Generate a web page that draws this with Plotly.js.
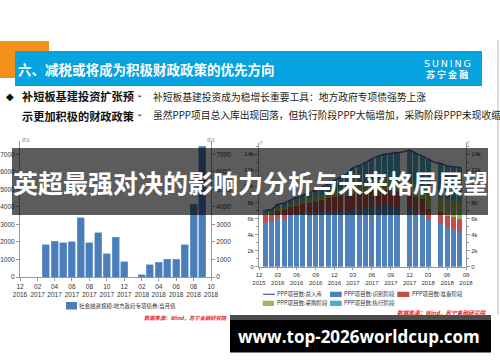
<!DOCTYPE html>
<html><head><meta charset="utf-8">
<script src="https://cdn.plot.ly/plotly-3.0.1.min.js"></script>
<style>html,body{margin:0;padding:0;background:#fff}#chart{width:500px;height:362px}</style>
</head><body><div id="chart"></div>
<script>
// ---------- left chart data: 地方政府专项债 当月值 (亿元) ----------
const leftMonths = ['2016-12','2017-01','2017-02','2017-03','2017-04','2017-05','2017-06','2017-07','2017-08','2017-09','2017-10','2017-11','2017-12','2018-01','2018-02','2018-03','2018-04','2018-05','2018-06','2018-07','2018-08','2018-09'];
const leftValues = [0,0,0,1840,2050,1960,2010,3370,1960,2520,1320,2270,870,0,120,690,840,1020,1020,1850,4150,7470];
const leftTickVals = ['2016-12-01','2017-02-01','2017-04-01','2017-06-01','2017-08-01','2017-10-01','2017-12-01','2018-02-01','2018-04-01','2018-06-01','2018-08-01','2018-10-01'];
const leftTickText = ['12<br>2016','02<br>2017','04<br>2017','06<br>2017','08<br>2017','10<br>2017','12<br>2017','02<br>2018','04<br>2018','06<br>2018','08<br>2018','10<br>2018'];
const leftName = '社会融资规模:地方政府专项债券:当月值';

// ---------- right chart data: PPP 项目数 (个) ----------
const rightMonths = ['2016-01','2016-02','2016-03','2016-04','2016-05','2016-06','2016-07','2016-08','2016-09','2016-10','2016-11','2016-12','2017-01','2017-02','2017-03','2017-04','2017-05','2017-06','2017-07','2017-08','2017-09','2017-10','2017-11','2017-12','2018-01','2018-02','2018-03','2018-04','2018-05','2018-06','2018-07','2018-08'];
const pppTotal   = [7050,7150,7750,7900,8300,8650,8900,9200,9500,9900,10350,10800,11200,11600,12300,12600,13000,13400,13800,14000,14100,14250,14300,14530,14100,13780,13370,13000,12870,12550,12450,12400];
const pppIdentify= [5500,5600,6200,5850,6400,6500,6600,6650,6700,6750,6800,6850,6900,6950,7050,7150,7300,7400,7500,7550,7500,7300,null,7450,6900,6700,5900,null,5350,4950,4700,4300];
const pppPrepare = [900,950,750,1200,1000,1100,1150,1300,1400,1500,1700,1800,1850,1900,2000,2000,2050,2100,2100,2050,2000,1950,null,1800,1800,1750,1250,null,1450,1350,1500,1700];
const pppPurchase= [300,300,350,400,450,500,550,600,650,700,800,850,900,950,1000,1050,1100,1150,1200,1250,1300,1400,null,1450,1600,1650,1900,null,1800,1950,2050,2100];
const pppExecute = [350,300,450,450,450,550,600,650,750,950,1050,1300,1550,1800,2250,2400,2550,2750,3000,3150,3300,3600,null,3830,3800,3680,4320,null,4270,4300,4200,4300];
const rightTickVals = ['2015-12-01','2016-03-01','2016-06-01','2016-09-01','2016-12-01','2017-03-01','2017-06-01','2017-09-01','2017-12-01','2018-03-01','2018-06-01','2018-09-01'];
const rightTickText = ['12<br>2015','03<br>2016','06<br>2016','09<br>2016','12<br>2016','03<br>2017','06<br>2017','09<br>2017','12<br>2017','03<br>2018','06<br>2018','09<br>2018'];
const pppNames = ['PPP项目数:总入库','PPP项目数:识别阶段','PPP项目数:准备阶段','PPP项目数:采购阶段','PPP项目数:执行阶段'];
const pppColors = ['#5b4a9c','#4f81bd','#c0504d','#9bbb59','#4bacc6'];

// ---------- helpers for page layout (pixel -> paper) ----------
const W = 500, H = 362;
const px = x => x / W;
const py = y => 1 - y / H;
const CJK = 'Noto Sans CJK SC, sans-serif';
const TICKF = {family:'Liberation Sans, Arial, sans-serif', size:6.5, color:'#333'};
const TICKF2 = {family:'Liberation Sans, Arial, sans-serif', size:6, color:'#333'};

const traces = [
  {type:'bar', x:leftMonths, y:leftValues, xaxis:'x', yaxis:'y', name:leftName,
   marker:{color:'#4a7ebb', line:{color:'#7ea3d4', width:0.6}}, showlegend:false, hoverinfo:'skip'},
  {type:'bar', x:rightMonths, y:pppIdentify, xaxis:'x2', yaxis:'y2', name:pppNames[1], marker:{color:pppColors[1]}, showlegend:false},
  {type:'bar', x:rightMonths, y:pppPrepare, xaxis:'x2', yaxis:'y2', name:pppNames[2], marker:{color:pppColors[2]}, showlegend:false},
  {type:'bar', x:rightMonths, y:pppPurchase, xaxis:'x2', yaxis:'y2', name:pppNames[3], marker:{color:pppColors[3]}, showlegend:false},
  {type:'bar', x:rightMonths, y:pppExecute, xaxis:'x2', yaxis:'y2', name:pppNames[4], marker:{color:pppColors[4]}, showlegend:false},
  {type:'scatter', mode:'lines', x:rightMonths, y:pppTotal, xaxis:'x2', yaxis:'y2', name:pppNames[0], line:{color:pppColors[0], width:1.3}, showlegend:false},
  // empty traces so the mirrored right-hand value axes get drawn
  {type:'scatter', mode:'lines', x:[], y:[], xaxis:'x', yaxis:'y3', showlegend:false, hoverinfo:'skip'},
  {type:'scatter', mode:'lines', x:[], y:[], xaxis:'x2', yaxis:'y4', showlegend:false, hoverinfo:'skip'}
];

const axisBase = {showgrid:false, zeroline:false, showline:true, linecolor:'#999', linewidth:1, ticks:'outside', tickcolor:'#999', fixedrange:true};

const layout = {
  width:W, height:H, autosize:false,
  margin:{l:0,r:0,t:0,b:0,pad:0},
  paper_bgcolor:'#fff', plot_bgcolor:'rgba(0,0,0,0)',
  barmode:'stack', bargap:0.12, showlegend:false,
  xaxis: Object.assign({}, axisBase, {domain:[px(20),px(211)], anchor:'y', type:'date', range:['2016-12-01','2018-10-01'],
    tickmode:'array', tickvals:leftTickVals, ticktext:leftTickText, ticklen:3, tickangle:0, tickfont:TICKF}),
  yaxis: Object.assign({}, axisBase, {domain:[py(277),py(141)], anchor:'x', range:[0,7760], dtick:1000, ticklen:3, tickfont:TICKF}),
  yaxis3: Object.assign({}, axisBase, {overlaying:'y', side:'right', anchor:'x', range:[0,7760], dtick:1000, ticklen:3, tickfont:TICKF}),
  xaxis2: Object.assign({}, axisBase, {domain:[px(259),px(466)], anchor:'y2', type:'date', range:['2015-12-01','2018-09-01'],
    tickmode:'array', tickvals:rightTickVals, ticktext:rightTickText, ticklen:2, tickangle:0, tickfont:TICKF2}),
  yaxis2: Object.assign({}, axisBase, {domain:[py(266.7),py(143)], anchor:'x2', range:[0,15400], dtick:2000, ticklen:3, tickfont:TICKF2,
    minor:{dtick:1000, ticklen:2, tickcolor:'#999', ticks:'outside'}}),
  yaxis4: Object.assign({}, axisBase, {overlaying:'y2', side:'right', anchor:'x2', range:[0,15400], dtick:2000, ticklen:3, tickfont:TICKF2,
    minor:{dtick:1000, ticklen:2, tickcolor:'#999', ticks:'outside'}}),
  shapes: [
    {type:'rect', xref:'paper', yref:'paper', x0:0, x1:px(49), y0:py(78), y1:py(41), fillcolor:'#f39019', line:{width:0}, layer:'below'},
    {type:'rect', xref:'paper', yref:'paper', x0:px(15), x1:px(482), y0:py(86), y1:py(51), fillcolor:'#05a3e0', line:{width:0}, layer:'below'},
    {type:'line', xref:'paper', yref:'paper', x0:px(498), x1:px(498), y0:py(40), y1:py(315), line:{color:'#bbb', width:1}, layer:'below'},
    // legend swatches
    {type:'rect', xref:'paper', yref:'paper', x0:px(66), x1:px(77), y0:py(309.5), y1:py(302), fillcolor:'#4a7ebb', line:{width:0}},
    {type:'line', xref:'paper', yref:'paper', x0:px(263), x1:px(275), y0:py(294.3), y1:py(294.3), line:{color:pppColors[0], width:1.2}},
    {type:'rect', xref:'paper', yref:'paper', x0:px(330), x1:px(341.7), y0:py(297), y1:py(291.7), fillcolor:pppColors[1], line:{width:0}},
    {type:'rect', xref:'paper', yref:'paper', x0:px(397.3), x1:px(409.3), y0:py(297), y1:py(291.7), fillcolor:pppColors[2], line:{width:0}},
    {type:'rect', xref:'paper', yref:'paper', x0:px(262.7), x1:px(274), y0:py(306), y1:py(300.7), fillcolor:pppColors[3], line:{width:0}},
    {type:'rect', xref:'paper', yref:'paper', x0:px(330), x1:px(341.7), y0:py(306), y1:py(300.7), fillcolor:pppColors[4], line:{width:0}},
    // overlay band and bottom box
    {type:'rect', xref:'paper', yref:'paper', x0:px(12), x1:px(488), y0:py(215), y1:py(148), fillcolor:'rgba(0,0,0,0.64)', line:{width:0}, layer:'above'},
    {type:'rect', xref:'paper', yref:'paper', x0:px(230), x1:px(491), y0:py(320), y1:py(315), fillcolor:'#4d4d4d', line:{width:0}, layer:'above'},
    {type:'rect', xref:'paper', yref:'paper', x0:px(230), x1:px(491), y0:py(352.5), y1:py(320), fillcolor:'#000', line:{width:0}, layer:'above'}
  ],
  annotations: []
};

function ann(text, x, y, size, color, opts) {
  layout.annotations.push(Object.assign({text:text, xref:'paper', yref:'paper', x:px(x), y:py(y), xanchor:'left', yanchor:'middle',
    showarrow:false, font:{family:CJK, size:size, color:color}, borderpad:0}, opts || {}));
}
// header
ann('<b>六、减税或将成为积极财政政策的优先方向</b>', 16.5, 68.5, 13.5, '#fff');
ann('S\u2009U\u2009N\u2009I\u2009N\u2009G', 447, 63, 9.5, '#fff', {xanchor:'center', font:{family:'DejaVu Sans, sans-serif', size:9.5, color:'#fff'}});
ann('<b>苏 宁 金 融</b>', 447, 74.8, 9, '#fff', {xanchor:'center'});
// bullet lines
ann('◆', 10, 96.3, 10, '#111', {xanchor:'center', font:{family:'DejaVu Sans, sans-serif', size:10, color:'#111'}});
ann('<b>补短板基建投资扩张预</b>', 21, 96.3, 11.2, '#111');
ann('<b>示更加积极的财政政策</b>', 21, 115.5, 11.2, '#111');
ann('➢', 140, 96.3, 6.5, '#222', {xanchor:'center', font:{family:'DejaVu Sans, sans-serif', size:6.5, color:'#222'}});
ann('➢', 140, 114.5, 6.5, '#222', {xanchor:'center', font:{family:'DejaVu Sans, sans-serif', size:6.5, color:'#222'}});
ann('补短板基建投资成为稳增长重要工具：地方政府专项债强势上涨', 151.7, 96.6, 9.75, '#222');
ann('虽然PPP项目总入库出现回落，但执行阶段PPP大幅增加，采购阶段PPP未现收缩', 151.7, 114.5, 9.75, '#222');
// axis units
ann('亿元', 20.5, 140, 4, '#555');
ann('亿元', 205.5, 140, 4, '#555');
ann('个', 258, 143, 4, '#555');
ann('个', 465, 143, 4, '#555');
// legends
ann(leftName, 78, 306, 5.5, '#333');
ann(pppNames[0], 275.5, 294.3, 5.5, '#333');
ann(pppNames[1], 343, 294.3, 5.5, '#333');
ann(pppNames[2], 410.7, 294.3, 5.5, '#333');
ann(pppNames[3], 275.5, 303.3, 5.5, '#333');
ann(pppNames[4], 343, 303.3, 5.5, '#333');
// sources
ann('<b><i>数据来源：Wind，苏宁金融研究院</i></b>', 229, 317.5, 5.3, '#e2231a', {xanchor:'right'});
ann('<b><i>数据来源：Wind，苏宁金融研究院</i></b>', 487, 312.8, 5.7, '#e2231a', {xanchor:'right'});
// overlay headline and url
ann('<b>英超最强对决的影响力分析与未来格局展望</b>', 250, 181.5, 25, '#fff', {xanchor:'center'});
ann('<b>www.top-2026worldcup.com</b>', 359, 336.5, 17, '#fff', {xanchor:'center', font:{family:'Open Sans, sans-serif', size:17, color:'#fff'}});

Plotly.newPlot('chart', traces, layout, {staticPlot:true, displayModeBar:false});
</script>
</body></html>
